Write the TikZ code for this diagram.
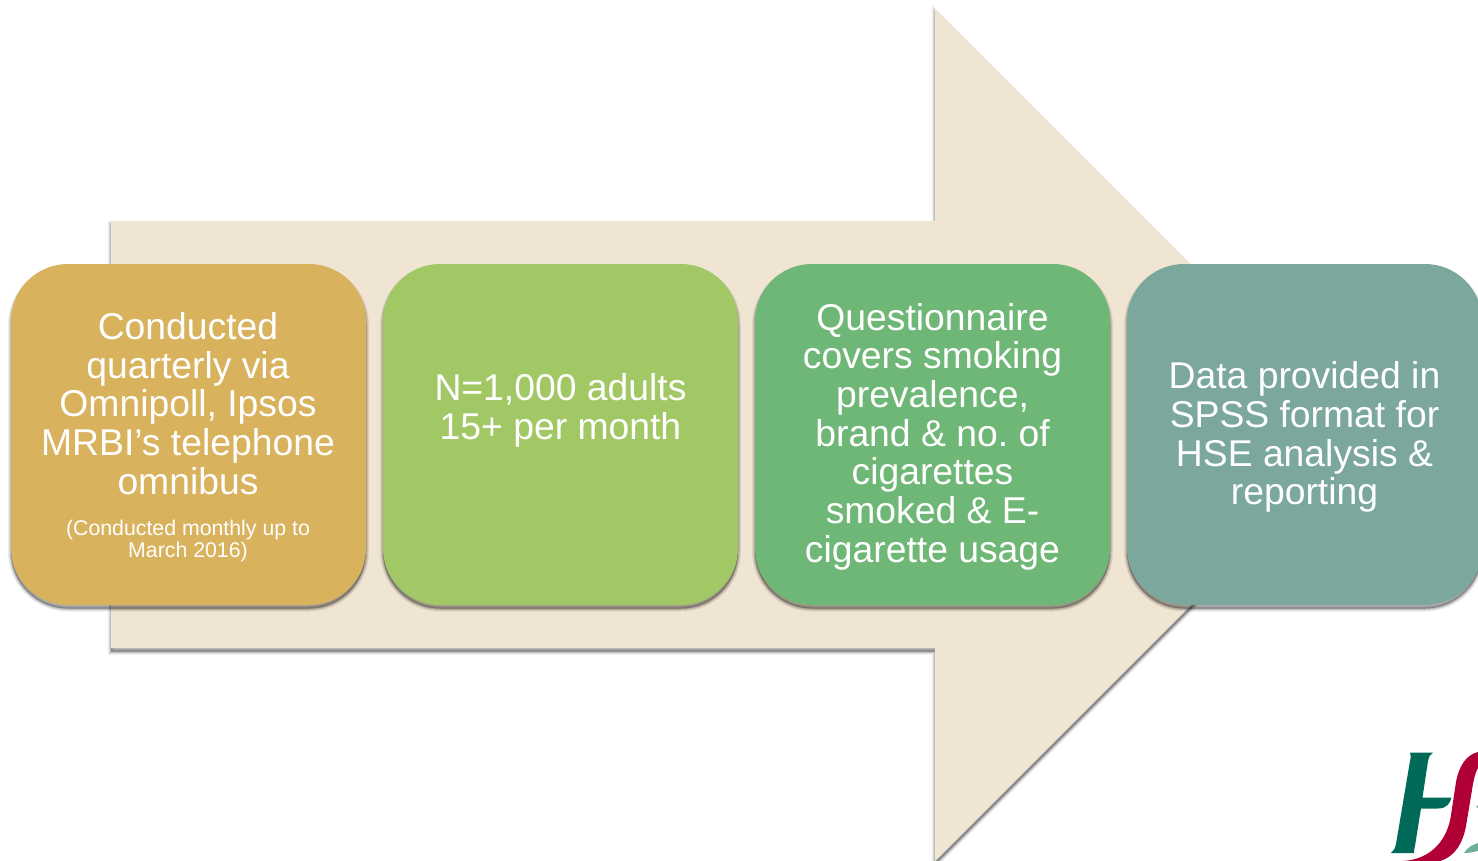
\documentclass[tikz,border=0pt]{standalone}
\usepackage{fontspec}
\setmainfont{Liberation Sans}
\frenchspacing
\definecolor{arrowfill}{HTML}{F0E5D3}
\definecolor{boxgold}{HTML}{D8B25C}
\definecolor{boxlime}{HTML}{A2C866}
\definecolor{boxgreen}{HTML}{6FB776}
\definecolor{boxteal}{HTML}{7BA79D}
\definecolor{hsegreen}{HTML}{006A58}
\definecolor{hsered}{HTML}{B00035}
\definecolor{hseleaf}{HTML}{6FAE98}
\tikzset{
  shadowpass/.style={preaction={draw=black,fill=black,opacity=.065,line width=#1,transform canvas={yshift=-3.5pt}}},
  softshadow/.style={shadowpass=6pt,shadowpass=4.5pt,shadowpass=3pt,shadowpass=2pt,shadowpass=1pt},
  stagebox/.style={softshadow,fill=#1,draw=none,minimum width=355pt,minimum height=341pt,rounded corners=57pt,inner sep=0pt},
  bigtext/.style={text=white,align=center,inner sep=0pt,font=\fontsize{37.3}{38.7}\selectfont},
  smalltext/.style={text=white,align=center,inner sep=0pt,font=\fontsize{21.3}{22}\selectfont},
}
\begin{document}
\begin{tikzpicture}[x=1pt,y=-1pt]
\useasboundingbox (0,0) rectangle (1478,861);
% large background arrow
\path[softshadow,fill=arrowfill] (111,221) -- (935,221) -- (935,9) -- (1361,435) -- (935,861) -- (935,648) -- (111,648) -- cycle;
% stage boxes
\node[stagebox=boxgold]  (b1) at (188.5,434.5) {};
\node[stagebox=boxlime]  (b2) at (560.5,434.5) {};
\node[stagebox=boxgreen] (b3) at (932.5,434.5) {};
\node[stagebox=boxteal]  (b4) at (1304.5,434.5) {};
% texts
\node[bigtext,anchor=base] (t1) at (188,494.3) {Conducted\\quarterly via\\Omnipoll, Ipsos\\MRBI’s telephone\\omnibus};
\node[smalltext,anchor=base] (t1s) at (188,557) {(Conducted monthly up to\\March 2016)};
\node[bigtext,anchor=base] (t2) at (560.5,439) {N=1,000 adults\\15+ per month};
\node[bigtext,anchor=base] (t3) at (932.5,562.3) {Questionnaire\\covers smoking\\prevalence,\\brand \& no. of\\cigarettes\\smoked \& E-\\cigarette usage};
\node[bigtext,anchor=base] (t4) at (1304.5,504.7) {Data provided in\\SPSS format for\\HSE analysis \&\\reporting};
% logo
\fill[hsegreen] (1410,752.5) -- (1433,752.5) .. controls (1430,754) and (1429,757) .. (1428,761) -- (1422.5,797.5) -- (1451.5,797.5) .. controls (1450,804) and (1446,808.5) .. (1438,808.5) -- (1421,808.5) -- (1415,846) .. controls (1414,850) and (1414,852) .. (1414,853) -- (1391,853) .. controls (1394,851) and (1395,848) .. (1396,844) -- (1410,761) .. controls (1411,757) and (1411,755) .. (1410,752.5) -- cycle;
\fill[hsered] (1478,752) .. controls (1466,755) and (1459,766) .. (1456,782) -- (1451,815) .. controls (1448,838) and (1432,860) .. (1402,861) -- (1440,861) .. controls (1456,856) and (1463,842) .. (1466,826) -- (1472,790) .. controls (1473,783) and (1475,773) .. (1478,768) -- cycle;
\fill[hseleaf] (1464,853) .. controls (1468,847) and (1472,845) .. (1478,843) -- (1478,851) .. controls (1473,852) and (1469,853) .. (1464,853) -- cycle;
\fill[hseleaf] (1476,807) .. controls (1476.5,806) and (1477,805.5) .. (1478,805) -- (1478,808) -- cycle;
\end{tikzpicture}
\end{document}
